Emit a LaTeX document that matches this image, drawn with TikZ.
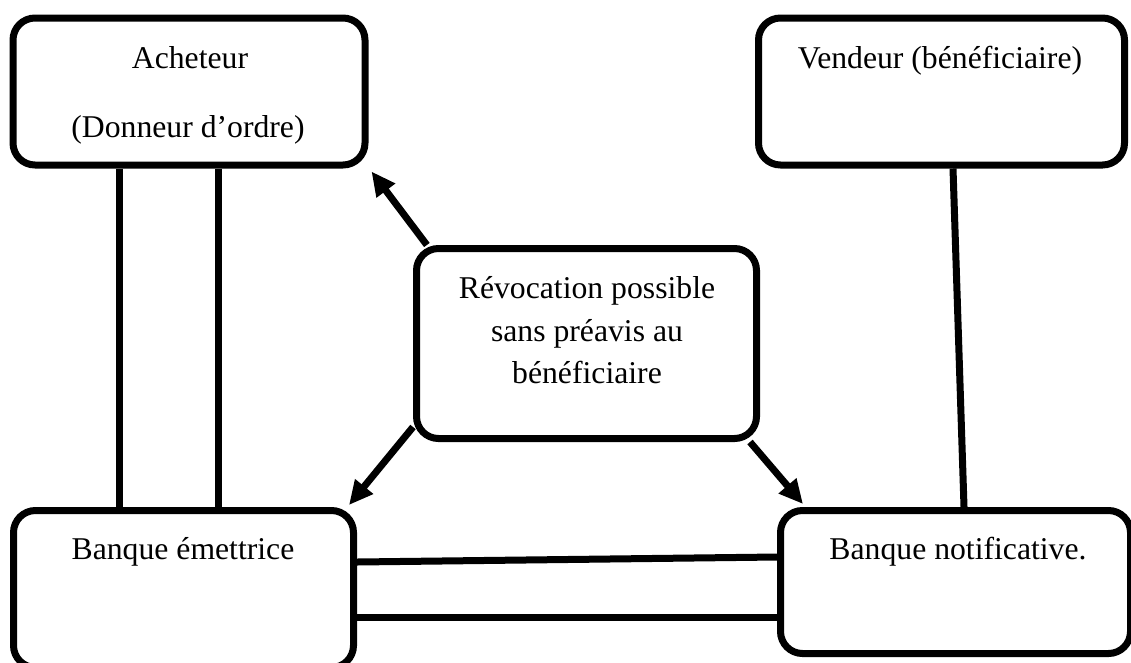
\documentclass[tikz,border=0pt]{standalone}
\usepackage{fontspec}
\setmainfont{Liberation Serif}
\usetikzlibrary{calc,arrows.meta}

\begin{document}
\begin{tikzpicture}[x=1pt,y=-1pt,
  box/.style={draw=black,line width=7pt,rounded corners=22pt,inner sep=0pt,fill=white},
  lbl/.style={inner sep=0pt,anchor=base,font=\fontsize{31.7}{44}\selectfont},
  link/.style={line width=7pt},
  arr/.style={line width=7pt,-{Triangle[length=24pt,width=22pt]}}]
\useasboundingbox (0,0) rectangle (1131,662);

% boxes
\node[box,minimum width=352pt,minimum height=147pt] (A) at (189,91.5) {};
\node[box,minimum width=366pt,minimum height=147pt] (V) at (941.5,91.5) {};
\node[box,minimum width=340pt,minimum height=190pt] (C) at (586.5,343.5) {};
\node[box,minimum width=340pt,minimum height=157pt] (E) at (183.5,589) {};
\node[box,minimum width=350pt,minimum height=143pt] (N) at (955.5,582) {};

% texts
\node[lbl] (tA1) at (190,68) {Acheteur};
\node[lbl] (tA2) at (188,137) {(Donneur d’ordre)};
\node[lbl] (tV) at (940,68) {Vendeur (bénéficiaire)};
\node[lbl] (tC1) at (587,298) {Révocation possible};
\node[lbl] (tC2) at (587,341) {sans préavis au};
\node[lbl] (tC3) at (587,383) {bénéficiaire};
\node[lbl] (tE) at (183,559) {Banque émettrice};
\node[lbl] (tN) at (958,559) {Banque notificative.};

% connection points
\coordinate (a1) at ($(A.south west)+(110,0)$);
\coordinate (a2) at ($(A.south west)+(209,0)$);
\coordinate (v1) at ($(V.south)+(11.5,0)$);
\coordinate (n1) at ($(N.north)+(8.5,0)$);

% plain links
\draw[link] (a1) -- (a1 |- E.north);
\draw[link] (a2) -- (a2 |- E.north);
\draw[link] (v1) -- (n1);
\draw[link] ($(E.east)+(0,-27)$) -- ($(N.west)+(0,-25)$);
\draw[link] ($(E.east)+(0,28)$) -- ($(N.west)+(0,35)$);

% arrows from the central box
\draw[arr] ($(C.north west)!0.04!(C.north east)$) -- ($(A.south east)+(3,3)$);
\draw[arr] ($(C.south west)+(0,-15)$) -- ($(E.north east)+(-8,-2)$);
\draw[arr] ($(C.south east)+(-10,0)$) -- ($(N.north west)+(26,-3)$);
\end{tikzpicture}
\end{document}
